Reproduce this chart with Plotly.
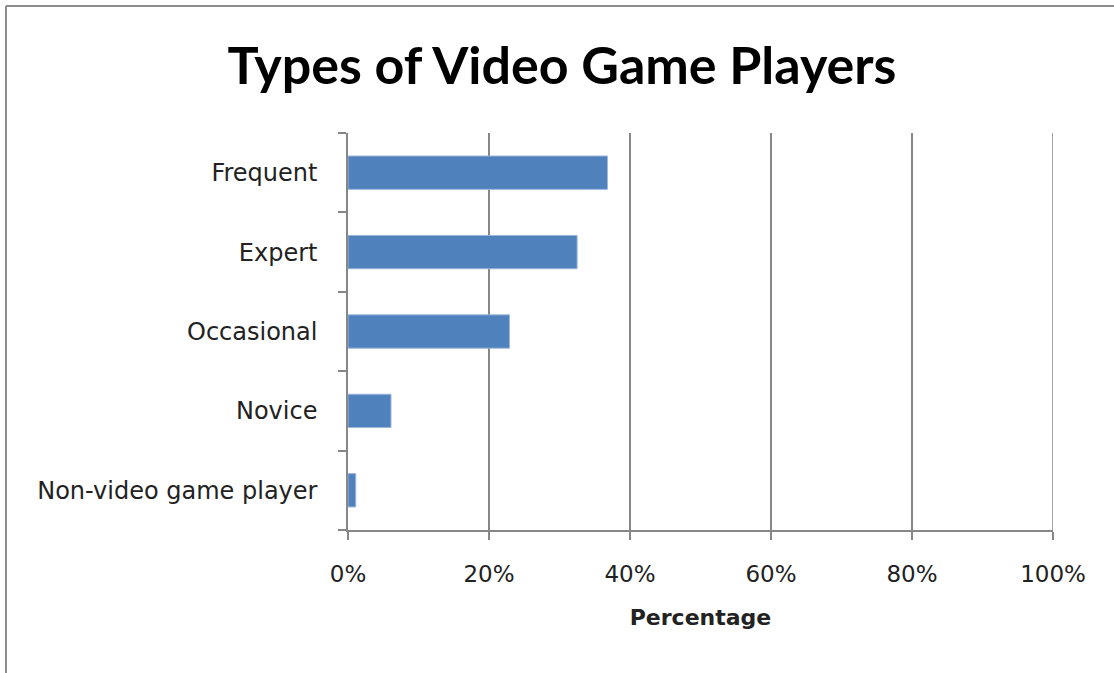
import plotly.graph_objects as go

# Share of respondents per player type (percent)
categories = ["Frequent", "Expert", "Occasional", "Novice", "Non-video game player"]
values = [36.8, 32.5, 22.9, 6.1, 1.1]
tick_vals = [0, 20, 40, 60, 80, 100]
tick_text = ["0%", "20%", "40%", "60%", "80%", "100%"]

W, H = 1114, 673
L, R, T, B = 348, 61, 133, 143
pw, ph = W - L - R, H - T - B

gray = "#878787"
title_font = "Lato, 'Open Sans', sans-serif"
label_font = "'DejaVu Sans', Verdana, sans-serif"

fig = go.Figure(
    go.Bar(
        x=values,
        y=categories,
        orientation="h",
        marker=dict(color="#4F81BD", line=dict(color="#9DB6DA", width=1)),
        hoverinfo="x+y",
    )
)

fig.update_layout(
    width=W,
    height=H,
    margin=dict(l=L, r=R, t=T, b=B),
    paper_bgcolor="white",
    plot_bgcolor="white",
    bargap=0.58,
    showlegend=False,
    font=dict(family=label_font, color="#1a1a1a"),
    title=dict(
        text="<b>Types of Video Game Players</b>",
        x=562 / W,
        xref="container",
        xanchor="center",
        y=1 - 66 / H,
        yref="container",
        yanchor="middle",
        font=dict(size=52, family=title_font, color="#000000"),
    ),
    xaxis=dict(
        range=[tick_vals[0], tick_vals[-1]],
        tickvals=tick_vals,
        ticktext=tick_text,
        showgrid=True,
        gridcolor=gray,
        gridwidth=1.5,
        showline=True,
        linecolor=gray,
        linewidth=1.5,
        ticks="outside",
        ticklen=8,
        tickcolor=gray,
        tickwidth=1.5,
        tickfont=dict(size=23, color="#222222"),
        ticklabelstandoff=15,
        zeroline=False,
        title=dict(
            text="<b>Percentage</b>",
            font=dict(size=22, color="#222222"),
            standoff=23,
        ),
        fixedrange=True,
    ),
    yaxis=dict(
        type="category",
        categoryorder="array",
        categoryarray=categories[::-1],
        showgrid=False,
        showline=True,
        linecolor=gray,
        linewidth=1.5,
        ticks="outside",
        tickson="boundaries",
        ticklen=8,
        tickcolor=gray,
        tickwidth=1.5,
        tickfont=dict(size=24, color="#222222"),
        ticklabelstandoff=24,
        fixedrange=True,
    ),
)

# Gridline at the right end of the value axis (plotly clips it at the edge)
fig.add_shape(type="line", xref="x", yref="paper",
              x0=tick_vals[-1], x1=tick_vals[-1], y0=0, y1=1,
              line=dict(color=gray, width=1.5), layer="below")
fig.add_shape(type="line", xref="x", yref="paper",
              x0=tick_vals[-1], x1=tick_vals[-1], y0=0, y1=-8 / ph,
              line=dict(color=gray, width=1.5), layer="below")

# Outer chart border (top and left edges fall inside the page)
bx0 = (6 - L) / pw
by1 = 1 + (T - 6) / ph
fig.add_shape(type="line", xref="paper", yref="paper",
              x0=bx0, x1=(W + 10 - L) / pw, y0=by1, y1=by1,
              line=dict(color="#8c8c8c", width=2))
fig.add_shape(type="line", xref="paper", yref="paper",
              x0=bx0, x1=bx0, y0=by1, y1=-(B + 10) / ph,
              line=dict(color="#8c8c8c", width=2))

fig.write_html("out.html")
